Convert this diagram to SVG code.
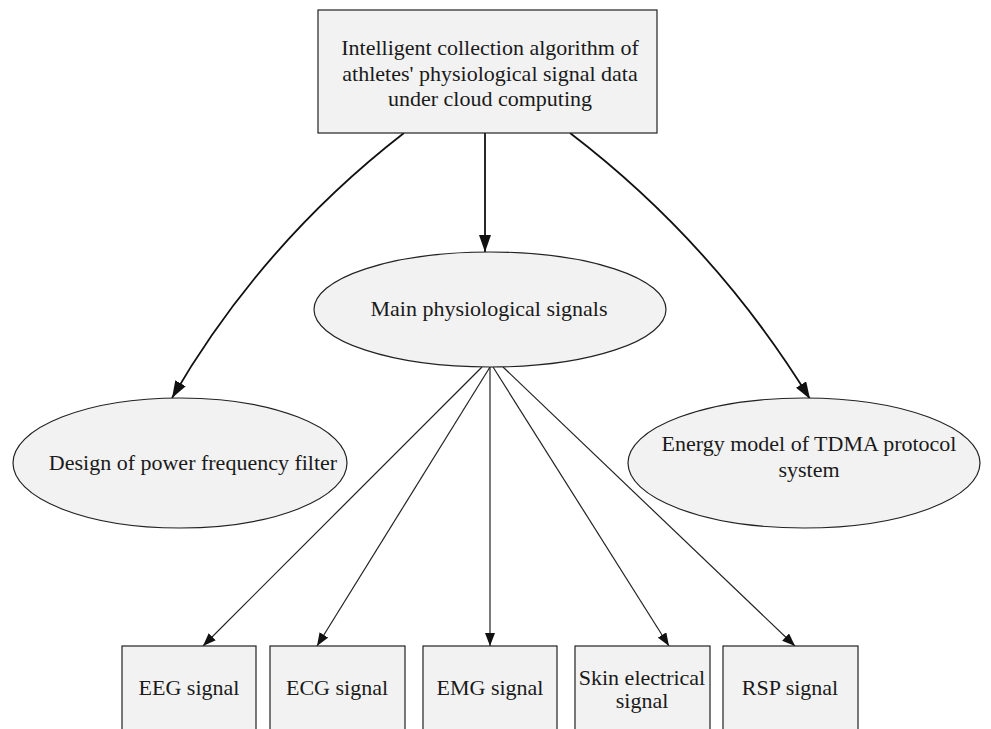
<svg xmlns="http://www.w3.org/2000/svg" width="991" height="729" viewBox="0 0 991 729">
<defs>
<style>
.n{fill:#f2f2f2;stroke:#222;stroke-width:1.2}
.t{font-family:"Liberation Serif","Times New Roman",serif;font-size:22px;fill:#1a1a1a;text-anchor:middle}
.thick{fill:none;stroke:#111;stroke-width:1.8}
.thin{fill:none;stroke:#222;stroke-width:1.2}
</style>
<marker id="ahb" viewBox="0 0 17 12" refX="17" refY="6" markerWidth="17" markerHeight="12" markerUnits="userSpaceOnUse" orient="auto">
<path d="M0,0 L17,6 L0,12 z" fill="#111"/>
</marker>
<marker id="ahs" viewBox="0 0 13 10" refX="13" refY="5" markerWidth="13" markerHeight="10" markerUnits="userSpaceOnUse" orient="auto">
<path d="M0,0 L13,5 L0,10 z" fill="#111"/>
</marker>
</defs>
<rect width="991" height="729" fill="#fff"/>
<g id="connectors">
<path class="thick" d="M485,133 L485,252" marker-end="url(#ahb)"/>
<path class="thick" d="M404,133 Q262,243 172,398" marker-end="url(#ahb)"/>
<path class="thick" d="M570,133 Q714,243 810,399" marker-end="url(#ahb)"/>
<path class="thin" d="M482,367 L203,646" marker-end="url(#ahs)"/>
<path class="thin" d="M490,367 L317,646" marker-end="url(#ahs)"/>
<path class="thin" d="M490,367 L490,646" marker-end="url(#ahs)"/>
<path class="thin" d="M493,367 L669,646" marker-end="url(#ahs)"/>
<path class="thin" d="M503,367 L795,646" marker-end="url(#ahs)"/>
</g>
<g id="top">
<rect class="n" x="318" y="10" width="339" height="123"/>
<text class="t" x="490" y="55">Intelligent collection algorithm of</text>
<text class="t" x="490" y="81">athletes' physiological signal data</text>
<text class="t" x="490" y="106">under cloud computing</text>
</g>
<g id="main">
<ellipse class="n" cx="490" cy="309.5" rx="176" ry="57.5"/>
<text class="t" x="489" y="316">Main physiological signals</text>
</g>
<g id="filter">
<ellipse class="n" cx="180" cy="463" rx="167" ry="65"/>
<text class="t" x="193" y="470">Design of power frequency filter</text>
</g>
<g id="tdma">
<ellipse class="n" cx="804" cy="463" rx="176" ry="65"/>
<text class="t" x="809" y="451">Energy model of TDMA protocol</text>
<text class="t" x="809" y="477">system</text>
</g>
<g id="eeg">
<rect class="n" x="122" y="646" width="134" height="100"/>
<text class="t" x="189" y="695">EEG signal</text>
</g>
<g id="ecg">
<rect class="n" x="270" y="646" width="135" height="100"/>
<text class="t" x="337" y="695">ECG signal</text>
</g>
<g id="emg">
<rect class="n" x="423" y="646" width="134" height="100"/>
<text class="t" x="490" y="695">EMG signal</text>
</g>
<g id="skin">
<rect class="n" x="575" y="646" width="135" height="100"/>
<text class="t" x="642" y="685">Skin electrical</text>
<text class="t" x="642" y="708">signal</text>
</g>
<g id="rsp">
<rect class="n" x="723" y="646" width="135" height="100"/>
<text class="t" x="790" y="695">RSP signal</text>
</g>
</svg>
